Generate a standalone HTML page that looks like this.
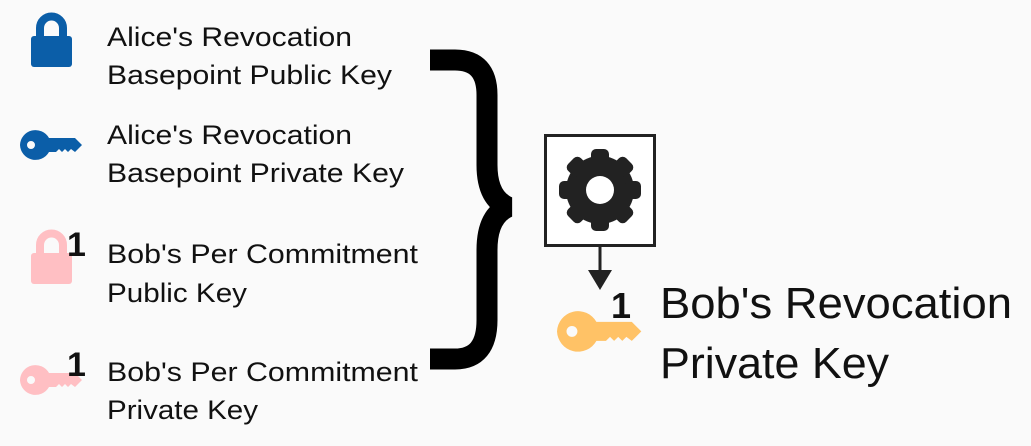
<!DOCTYPE html>
<html><head><style>
html,body{margin:0;padding:0;background:#fafafa;}
svg{display:block;}
text{font-family:"Liberation Sans",sans-serif;fill:#111;}
</style></head><body>
<svg width="1031" height="446" viewBox="0 0 1031 446" xmlns="http://www.w3.org/2000/svg">
<defs>
<g id="key">
<path d="M0 15 A15.5 15.5 0 0 1 29 8 H55 L62 15 L55 22 L51 19 L48 22 L45 19 L42 22 L39 19 L36 22 H29 A15.5 15.5 0 0 1 0 15 Z M7 15 A4 4 0 1 0 15 15 A4 4 0 1 0 7 15 Z" fill-rule="evenodd"/>
</g>
</defs>
<g transform="translate(31,14)" fill="#0b5ea8" stroke="#0b5ea8"><path d="M9 22 V14 A11.5 11.5 0 0 1 32 14 V22" fill="none" stroke-width="8"/><rect x="0" y="22" width="41" height="31" rx="3" stroke="none"/></g>
<g transform="translate(20,130)" fill="#0b5ea8"><use href="#key"/></g>
<g transform="translate(31,231)" fill="#ffbfc3" stroke="#ffbfc3"><path d="M9 22 V14 A11.5 11.5 0 0 1 32 14 V22" fill="none" stroke-width="8"/><rect x="0" y="22" width="41" height="31" rx="3" stroke="none"/></g>
<text x="67" y="256" font-size="34" font-weight="bold">1</text>
<g transform="translate(20,365)" fill="#ffbfc3"><use href="#key"/></g>
<text x="67" y="376" font-size="34" font-weight="bold">1</text>

<text x="107" y="46" font-size="27" textLength="245" lengthAdjust="spacingAndGlyphs">Alice's Revocation</text>
<text x="107" y="84" font-size="27" textLength="285" lengthAdjust="spacingAndGlyphs">Basepoint Public Key</text>
<text x="107" y="144" font-size="27" textLength="245" lengthAdjust="spacingAndGlyphs">Alice's Revocation</text>
<text x="107" y="182" font-size="27" textLength="297" lengthAdjust="spacingAndGlyphs">Basepoint Private Key</text>
<text x="107" y="263" font-size="27" textLength="311" lengthAdjust="spacingAndGlyphs">Bob's Per Commitment</text>
<text x="107" y="302" font-size="27" textLength="140" lengthAdjust="spacingAndGlyphs">Public Key</text>
<text x="107" y="381" font-size="27" textLength="311" lengthAdjust="spacingAndGlyphs">Bob's Per Commitment</text>
<text x="107" y="419" font-size="27" textLength="151" lengthAdjust="spacingAndGlyphs">Private Key</text>

<path d="M430 60 H455 Q487 60 487 95 V165 Q487 198 508 207 Q487 216 487 250 V320 Q487 359 455 359 H430" fill="none" stroke="#000" stroke-width="21" stroke-linejoin="bevel"/>

<rect x="545.5" y="135.5" width="109" height="110" fill="#fff" stroke="#222" stroke-width="3"/>
<g transform="translate(600,190)" fill="#222">
<circle r="34"/>
<g id="t"><rect x="-9" y="-41" width="18" height="16" rx="5"/></g>
<use href="#t" transform="rotate(45)"/><use href="#t" transform="rotate(90)"/><use href="#t" transform="rotate(135)"/>
<use href="#t" transform="rotate(180)"/><use href="#t" transform="rotate(225)"/><use href="#t" transform="rotate(270)"/><use href="#t" transform="rotate(315)"/>
<circle r="14" fill="#fff"/>
</g>
<line x1="600" y1="247" x2="600" y2="272" stroke="#222" stroke-width="3"/>
<path d="M588 270 H612 L600 290 Z" fill="#222"/>

<text x="611" y="318" font-size="36" font-weight="bold">1</text>
<g transform="translate(557,311) scale(1.36)" fill="#ffc266"><use href="#key"/></g>
<text x="660" y="318" font-size="44" textLength="352" lengthAdjust="spacingAndGlyphs">Bob's Revocation</text>
<text x="660" y="378" font-size="44" textLength="229" lengthAdjust="spacingAndGlyphs">Private Key</text>
</svg>
</body></html>
